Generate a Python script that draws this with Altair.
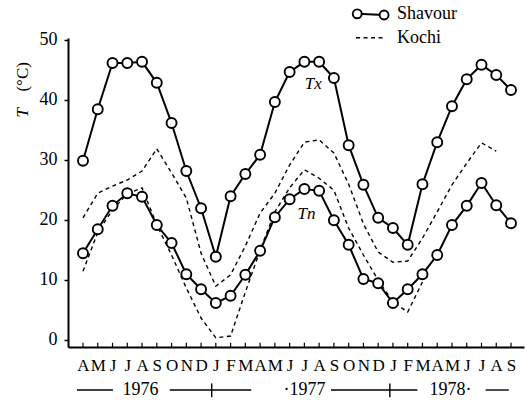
import altair as alt
import pandas as pd

# Month initials, April 1976 .. September 1978 (index 0..29)
months = ['A', 'M', 'J', 'J', 'A', 'S', 'O', 'N', 'D', 'J', 'F', 'M',
          'A', 'M', 'J', 'J', 'A', 'S', 'O', 'N', 'D', 'J', 'F', 'M',
          'A', 'M', 'J', 'J', 'A', 'S']

# Shavour monthly mean maximum / minimum temperature (°C)
shavour_tx = [29.8, 38.4, 46.1, 46.1, 46.3, 42.8, 36.1, 28.1, 21.9, 13.8,
              23.9, 27.6, 30.8, 39.6, 44.6, 46.3, 46.3, 43.6, 32.4, 25.8,
              20.3, 18.6, 15.8, 25.9, 32.9, 38.9, 43.4, 45.8, 44.1, 41.6]
shavour_tn = [14.4, 18.4, 22.3, 24.4, 23.8, 19.1, 16.1, 10.9, 8.4, 6.1,
              7.3, 10.8, 14.8, 20.4, 23.4, 25.1, 24.8, 19.9, 15.8, 10.1,
              9.4, 6.1, 8.4, 10.9, 14.1, 19.1, 22.3, 26.1, 22.4, 19.4]

# Kochi monthly mean maximum / minimum temperature (°C)
kochi_tx = [20.3, 24.4, 25.6, 26.6, 28.1, 31.8, 27.8, 23.6, 14.4, 8.9,
            10.8, 15.6, 21.1, 24.4, 29.1, 32.9, 33.3, 31.1, 25.9, 19.3,
            14.6, 12.9, 13.1, 16.9, 21.3, 25.8, 29.4, 32.8, 31.4]
kochi_tn = [11.4, 17.9, 21.6, 24.3, 25.3, 19.1, 14.1, 8.6, 3.6, 0.3,
            0.6, 7.9, 14.9, 21.3, 25.3, 28.3, 26.9, 24.9, 18.6, 14.1,
            9.9, 6.3, 4.6, 9.6]

# Year band under the month axis
year_text = ['1976', '\u00b71977', '1978\u00b7']
year_text_pos = [3.9, 15.0, 24.9]
year_line_start = [-0.41, 5.88, 16.8, 27.28]
year_line_end = [2.03, 11.4, 22.66, 28.85]
year_break = [8.72, 20.79]

X_DOMAIN = [-1.016, 29.88]
Y_DOMAIN = [-1.23, 50.27]
SERIF = 'Liberation Serif, Times New Roman, serif'

def series_frame(name, values):
    return pd.DataFrame({'m': list(range(len(values))), 't': values, 'series': name})

shav = pd.concat([series_frame('Tx', shavour_tx), series_frame('Tn', shavour_tn)])
koch = pd.concat([series_frame('Tx', kochi_tx), series_frame('Tn', kochi_tn)])

label_expr = '[' + ','.join("'%s'" % m for m in months) + '][datum.value]'

x_enc = alt.X('m:Q', scale=alt.Scale(domain=X_DOMAIN, nice=False, zero=False),
              axis=alt.Axis(values=list(range(len(months))), labelExpr=label_expr,
                            title=None, grid=False, ticks=False, domainColor='black',
                            domainWidth=2, labelFont=SERIF, labelFontSize=17,
                            labelColor='black', labelPadding=10, labelOverlap=False,
                            labelFlush=False, labelBound=False))
y_enc = alt.Y('t:Q', scale=alt.Scale(domain=Y_DOMAIN, nice=False, zero=False),
              axis=alt.Axis(values=[0, 10, 20, 30, 40, 50], title=None, grid=False,
                            tickSize=4, tickWidth=1.5, tickColor='black',
                            domainColor='black', domainWidth=2, labelFont=SERIF,
                            labelFontSize=18, labelColor='black', labelPadding=7,
                            labelOverlap=False, labelFlush=False))

kochi_lines = alt.Chart(koch).mark_line(
    color='black', strokeWidth=1.4, strokeDash=[4, 3.5]
).encode(x=x_enc, y=y_enc, detail='series:N')

shav_lines = alt.Chart(shav).mark_line(color='black', strokeWidth=2).encode(
    x=x_enc, y=y_enc, detail='series:N')
shav_points = alt.Chart(shav).mark_point(
    shape='circle', filled=True, fill='white', stroke='black', strokeWidth=1.9,
    size=100, opacity=1
).encode(x=x_enc, y=y_enc)

# inward month ticks on the time axis
tick_df = pd.DataFrame({'m': list(range(len(months))), 't': Y_DOMAIN[0], 't2': Y_DOMAIN[0] + 0.7})
month_ticks = alt.Chart(tick_df).mark_rule(color='black', strokeWidth=1.2).encode(
    x=x_enc, y=y_enc, y2='t2:Q')

# curve labels
curve_lab = pd.DataFrame({'m': [15.6, 15.14], 't': [42.6, 20.9], 'txt': ['Tx', 'Tn']})
curve_text = alt.Chart(curve_lab).mark_text(
    font=SERIF, fontSize=17, fontStyle='italic', color='black'
).encode(x=x_enc, y=y_enc, text='txt:N')

# y-axis title: italic symbol plus upright unit, rotated
ytitle_sym = pd.DataFrame({'m': [-4.05], 't': [37.8], 'txt': ['T']})
ytitle_unit = pd.DataFrame({'m': [-4.05], 't': [43.8], 'txt': ['(\u00b0C)']})
ytitle_T = alt.Chart(ytitle_sym).mark_text(
    font=SERIF, fontSize=17, fontStyle='italic', angle=270, color='black'
).encode(x=x_enc, y=y_enc, text='txt:N')
ytitle_U = alt.Chart(ytitle_unit).mark_text(
    font=SERIF, fontSize=17, angle=270, color='black'
).encode(x=x_enc, y=y_enc, text='txt:N')

# legend
leg_pts = pd.DataFrame({'m': [18.58, 20.4], 't': [54.3, 54.1]})
leg_line = alt.Chart(leg_pts).mark_line(color='black', strokeWidth=2).encode(x=x_enc, y=y_enc)
leg_circ = alt.Chart(leg_pts).mark_point(
    shape='circle', filled=True, fill='white', stroke='black', strokeWidth=1.9,
    size=80, opacity=1).encode(x=x_enc, y=y_enc)
leg_dash_df = pd.DataFrame({'m': [18.5], 'm2': [20.4], 't': [50.3]})
leg_dash = alt.Chart(leg_dash_df).mark_rule(
    color='black', strokeWidth=1.4, strokeDash=[4, 3.5]).encode(x=x_enc, x2='m2:Q', y=y_enc)
leg_txt_df = pd.DataFrame({'m': [21.28, 21.28], 't': [54.3, 50.3], 'txt': ['Shavour', 'Kochi']})
leg_txt = alt.Chart(leg_txt_df).mark_text(
    font=SERIF, fontSize=18, align='left', color='black').encode(x=x_enc, y=y_enc, text='txt:N')

# year band
yl_df = pd.DataFrame({'m': year_line_start, 'm2': year_line_end, 't': [-8.4] * 4})
year_lines = alt.Chart(yl_df).mark_rule(color='black', strokeWidth=1.4).encode(
    x=x_enc, x2='m2:Q', y=y_enc)
yb_df = pd.DataFrame({'m': year_break, 't': [-7.3] * 2, 't2': [-9.6] * 2})
year_breaks = alt.Chart(yb_df).mark_rule(color='black', strokeWidth=1.4).encode(
    x=x_enc, y=y_enc, y2='t2:Q')
yt_df = pd.DataFrame({'m': year_text_pos, 't': [-8.4] * 3, 'txt': year_text})
year_labels = alt.Chart(yt_df).mark_text(
    font=SERIF, fontSize=18, color='black').encode(x=x_enc, y=y_enc, text='txt:N')

chart = alt.layer(
    kochi_lines, shav_lines, shav_points, month_ticks, curve_text,
    ytitle_T, ytitle_U, leg_line, leg_circ, leg_dash, leg_txt,
    year_lines, year_breaks, year_labels
).properties(
    width=456, height=309,
    padding={'left': 68, 'top': 38, 'right': 1, 'bottom': 53},
    autosize=alt.AutoSizeParams(type='none')
).configure_view(stroke=None)

chart.save('out.html', embed_options={'renderer': 'svg', 'actions': False})
